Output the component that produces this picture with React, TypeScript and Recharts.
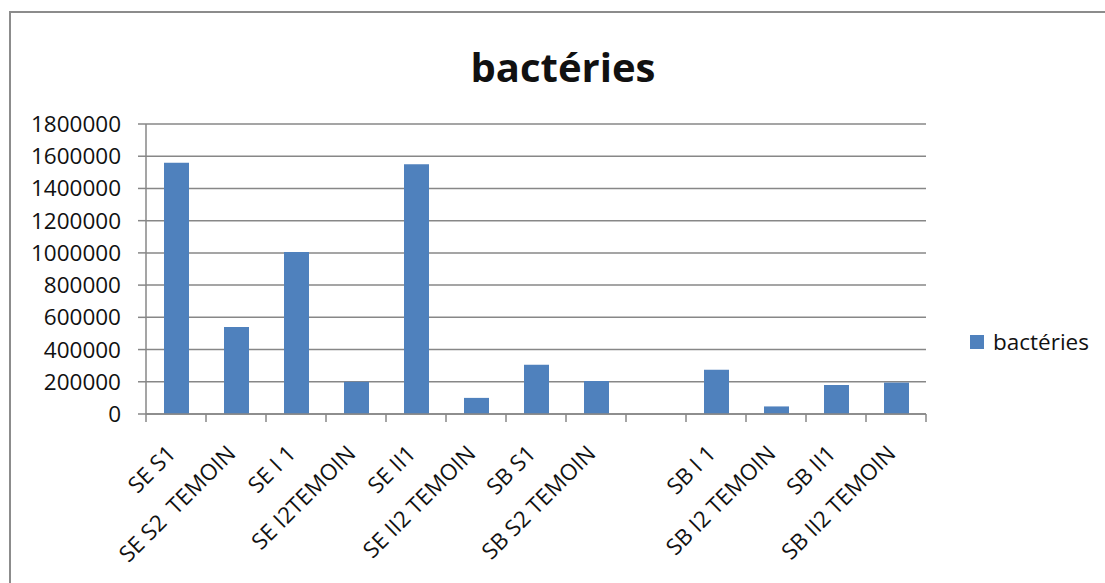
import React from "react";
import { BarChart, Bar, XAxis, YAxis, CartesianGrid, Legend } from "recharts";

const categories = [
  "SE S1",
  "SE S2  TEMOIN",
  "SE I 1",
  "SE I2TEMOIN",
  "SE II1",
  "SE II2 TEMOIN",
  "SB S1",
  "SB S2 TEMOIN",
  "",
  "SB I 1",
  "SB I2 TEMOIN",
  "SB II1",
  "SB II2 TEMOIN",
];
const bacteries: (number | null)[] = [
  1560000, 540000, 1005000, 200000, 1550000, 100000, 305000, 205000, null,
  275000, 47000, 180000, 195000,
];
const yTicks = [0, 200000, 400000, 600000, 800000, 1000000, 1200000, 1400000, 1600000, 1800000];
const seriesName = "bactéries";
const title = "bactéries";

const data = categories.map((name, i) => ({ name, value: bacteries[i] }));

const FONT = "'Open Sans', sans-serif";
const AXIS = "#878787";
const BAR = "#4f81bd";
const W = 1105;
const H = 583;
const M = { top: 124, right: 179, left: 26, bottom: 0 };
const Y_W = 120;
const PLOT_W = W - M.left - M.right - Y_W;

const XTick = (props: any) => {
  const { x, y, payload, index } = props;
  const off =
    payload && typeof payload.offset === "number" && payload.offset > 0
      ? payload.offset
      : PLOT_W / categories.length / 2;
  const ax = x + 1;
  const ay = y + 41;
  return (
    <g>
      <line x1={x - off} x2={x - off} y1={y} y2={y + 8} stroke={AXIS} strokeWidth={1.5} />
      {index === categories.length - 1 && (
        <line x1={x + off} x2={x + off} y1={y} y2={y + 8} stroke={AXIS} strokeWidth={1.5} />
      )}
      <text
        x={ax}
        y={ay}
        textAnchor="end"
        transform={`rotate(-45, ${ax}, ${ay})`}
        fontFamily={FONT}
        fontSize={22.5}
        fill="#111"
        style={{ whiteSpace: "pre" }}
        xmlSpace="preserve"
      >
        {payload.value}
      </text>
    </g>
  );
};

const LegendContent = () => (
  <div style={{ display: "flex", alignItems: "center", height: 26, fontFamily: FONT, fontSize: 22.5, color: "#111", whiteSpace: "nowrap" }}>
    <span style={{ display: "inline-block", width: 14, height: 14, background: BAR, marginRight: 9 }} />
    <span>{seriesName}</span>
  </div>
);

export default function App() {
  return (
    <div style={{ position: "absolute", left: 0, top: 0, width: W, height: H, overflow: "hidden", background: "#fff" }}>
      <div
        style={{
          position: "absolute",
          left: 9,
          top: 11,
          width: 1300,
          height: 800,
          borderLeft: "2px solid #8c8c8c",
          borderTop: "2px solid #8c8c8c",
        }}
      />
      <div
        style={{
          position: "absolute",
          left: 0,
          top: 46.5,
          width: 1126,
          textAlign: "center",
          fontFamily: FONT,
          fontWeight: 700,
          fontSize: 40,
          lineHeight: "40px",
          color: "#111",
        }}
      >
        {title}
      </div>
      <div style={{ position: "absolute", left: 0, top: 0 }}>
        <BarChart width={W} height={H} data={data} margin={M}>
          <CartesianGrid vertical={false} stroke={AXIS} strokeWidth={1.5} />
          <XAxis
            dataKey="name"
            type="category"
            interval={0}
            height={169}
            tickLine={false}
            tickSize={0}
            tickMargin={0}
            axisLine={{ stroke: AXIS, strokeWidth: 1.5 }}
            tick={<XTick />}
          />
          <YAxis
            type="number"
            domain={[0, 1800000]}
            ticks={yTicks}
            interval={0}
            width={Y_W}
            tickSize={8}
            tickMargin={17}
            tickLine={{ stroke: AXIS, strokeWidth: 1.5 }}
            axisLine={{ stroke: AXIS, strokeWidth: 1.5 }}
            tick={{ fontFamily: FONT, fontSize: 22.5, fill: "#111" }}
          />
          <Legend
            layout="vertical"
            align="center"
            verticalAlign="middle"
            content={<LegendContent />}
            wrapperStyle={{ left: 970, top: 328.5, width: "auto" }}
          />
          <Bar dataKey="value" name={seriesName} fill={BAR} barSize={25} isAnimationActive={false} />
        </BarChart>
      </div>
    </div>
  );
}
